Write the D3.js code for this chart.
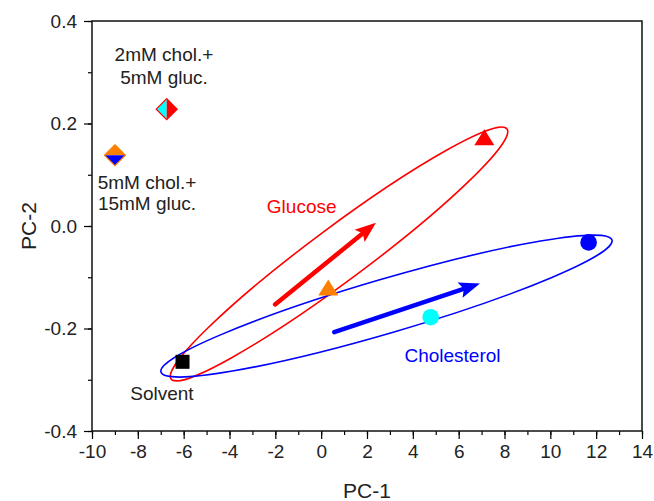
<!DOCTYPE html>
<html>
<head>
<meta charset="utf-8">
<script src="https://cdn.jsdelivr.net/npm/d3@7"></script>
<style>
body{margin:0;background:#fff;}
svg text{font-family:"Liberation Sans",Arial,Helvetica,sans-serif;fill:#222;}
</style>
</head>
<body>
<div id="chart"></div>
<script>
// ticks
var xTicks = [-10,-8,-6,-4,-2,0,2,4,6,8,10,12,14];
var yTicks = [-0.4,-0.2,0,0.2,0.4];
var yTickLabels = ["-0.4","-0.2","0.0","0.2","0.4"];

// score plot samples (PC-1, PC-2)
var sampleNames = ["Solvent","Glucose 1","Glucose 2","Cholesterol 1","Cholesterol 2","2mM chol.+5mM gluc.","5mM chol.+15mM gluc."];
var samplePC1 = [-6.05, 0.31, 7.12, 4.78, 11.67, -6.74, -9.0];
var samplePC2 = [-0.265, -0.122, 0.171, -0.178, -0.032, 0.228, 0.138];

// confidence ellipses, given by the two ends of the long axis
var groupNames = ["Glucose","Cholesterol"];
var ellipseStart = [[-6.55,-0.2985],[-6.99,-0.285]];
var ellipseEnd = [[8.11,0.1893],[12.69,-0.0273]];

// trend arrows
var arrowFrom = [[-2.01,-0.153],[0.57,-0.207]];
var arrowTo = [[2.39,0.0065],[6.93,-0.112]];

// text notes
var noteText = ["2mM chol.+","5mM gluc.","5mM chol.+","15mM gluc.","Solvent","Glucose","Cholesterol"];
var notePC1 = [-6.86,-6.86,-7.6,-7.6,-6.95,-0.85,5.73];
var notePC2 = [0.3356,0.2913,0.0864,0.0455,-0.326,0.039,-0.2517];

(function(){
	var width = 654, height = 501;
	var margin = {top:21, right:12, bottom:70, left:92};

	var shapes = ["square","triangle","triangle","circle","circle","diamondV","diamondH"];
	var fills = ["#000","#ff8000","#ff0000","#00ffff","#0000ff",["#00ffff","#ff0000"],["#ff8000","#0000ff"]];
	var groupColors = ["#ff0000","#0000ff"];
	var noteColors = ["#222","#222","#222","#222","#222","#ff0000","#0000ff"];
	var ellipseRatio = [0.129,0.115];

	var svg = d3.select("#chart").append("svg")
		.attr("width",width)
		.attr("height",height);

	var x = d3.scaleLinear().domain([-10,14]).range([margin.left,width-margin.right]);
	var y = d3.scaleLinear().domain([-0.4,0.4]).range([height-margin.bottom,margin.top]);

	// minor ticks
	svg.append("g")
		.attr("transform","translate(0,"+y(-0.4)+")")
		.call(d3.axisBottom(x).tickValues(d3.range(-10,14.5,1)).tickSize(4).tickFormat(""))
		.call(function(g){g.select(".domain").remove();});
	svg.append("g")
		.attr("transform","translate("+x(-10)+",0)")
		.call(d3.axisLeft(y).tickValues(d3.range(-4,4.5,1).map(function(d){return d/10;})).tickSize(4).tickFormat(""))
		.call(function(g){g.select(".domain").remove();});

	// major ticks
	var xAxis = svg.append("g")
		.attr("transform","translate(0,"+y(-0.4)+")")
		.call(d3.axisBottom(x).tickValues(xTicks).tickSize(8).tickPadding(6).tickFormat(function(d){return String(d);}));
	var yAxis = svg.append("g")
		.attr("transform","translate("+x(-10)+",0)")
		.call(d3.axisLeft(y).tickValues(yTicks).tickSize(8).tickPadding(7)
			.tickFormat(function(d,i){return yTickLabels[i];}));
	[xAxis,yAxis].forEach(function(g){
		g.select(".domain").remove();
		g.selectAll("text").style("font-size","19px").attr("fill","#222");
	});
	svg.selectAll(".tick line").attr("stroke","#000").attr("stroke-width",1.2);

	// frame
	svg.append("rect")
		.attr("x",x(-10)).attr("y",y(0.4))
		.attr("width",x(14)-x(-10)).attr("height",y(-0.4)-y(0.4))
		.attr("fill","none").attr("stroke","#111").attr("stroke-width",1.5);

	// axis titles
	svg.append("text")
		.attr("x",(x(-10)+x(14))/2).attr("y",498)
		.attr("text-anchor","middle").style("font-size","21px")
		.text("PC-1");
	svg.append("text")
		.attr("transform","translate(36,"+y(0)+") rotate(-90)")
		.attr("text-anchor","middle").style("font-size","21px")
		.text("PC-2");

	// ellipses
	groupNames.forEach(function(name,i){
		var x1 = x(ellipseStart[i][0]), y1 = y(ellipseStart[i][1]);
		var x2 = x(ellipseEnd[i][0]), y2 = y(ellipseEnd[i][1]);
		var a = Math.sqrt((x2-x1)*(x2-x1)+(y2-y1)*(y2-y1))/2;
		var ang = Math.atan2(y2-y1,x2-x1)*180/Math.PI;
		svg.append("ellipse")
			.attr("cx",(x1+x2)/2).attr("cy",(y1+y2)/2)
			.attr("rx",a).attr("ry",a*ellipseRatio[i])
			.attr("transform","rotate("+ang+","+(x1+x2)/2+","+(y1+y2)/2+")")
			.attr("fill","none")
			.attr("stroke",groupColors[i])
			.attr("stroke-width",1.6);
	});

	// arrows
	arrowFrom.forEach(function(p,i){
		var x1 = x(p[0]), y1 = y(p[1]);
		var x2 = x(arrowTo[i][0]), y2 = y(arrowTo[i][1]);
		var ang = Math.atan2(y2-y1,x2-x1);
		var len = 21, half = 8;
		var bx = x2-len*Math.cos(ang), by = y2-len*Math.sin(ang);
		svg.append("line")
			.attr("x1",x1).attr("y1",y1)
			.attr("x2",bx+3*Math.cos(ang)).attr("y2",by+3*Math.sin(ang))
			.attr("stroke",groupColors[i])
			.attr("stroke-width",4.5)
			.attr("stroke-linecap","round");
		svg.append("polygon")
			.attr("points",[
				[x2,y2],
				[bx-half*Math.sin(ang),by+half*Math.cos(ang)],
				[bx+4*Math.cos(ang),by+4*Math.sin(ang)],
				[bx+half*Math.sin(ang),by-half*Math.cos(ang)]
			].map(function(q){return q.join(",");}).join(" "))
			.attr("fill",groupColors[i]);
	});

	// samples
	sampleNames.forEach(function(name,i){
		var cx = x(samplePC1[i]), cy = y(samplePC2[i]);
		var shape = shapes[i];
		var g = svg.append("g").attr("class","sample");
		if(shape=="square"){
			g.append("rect").attr("x",cx-7).attr("y",cy-7)
				.attr("width",14).attr("height",14).attr("fill",fills[i]);
		} else if(shape=="circle"){
			g.append("circle").attr("cx",cx).attr("cy",cy).attr("r",8.3).attr("fill",fills[i]);
		} else if(shape=="triangle"){
			g.append("polygon")
				.attr("points",[[cx,cy-9],[cx-10,cy+7],[cx+10,cy+7]].map(function(q){return q.join(",");}).join(" "))
				.attr("fill",fills[i]);
		} else {
			var r = 10.5;
			var top = [cx,cy-r], bot = [cx,cy+r], lft = [cx-r,cy], rgt = [cx+r,cy];
			var halves = shape=="diamondV" ? [[top,lft,bot],[top,rgt,bot]] : [[lft,top,rgt],[lft,bot,rgt]];
			halves.forEach(function(h,j){
				g.append("polygon")
					.attr("points",h.map(function(q){return q.join(",");}).join(" "))
					.attr("fill",fills[i][j]);
			});
			g.append("polygon")
				.attr("points",[top,rgt,bot,lft].map(function(q){return q.join(",");}).join(" "))
				.attr("fill","none")
				.attr("stroke",shape=="diamondV" ? fills[i][1] : fills[i][0])
				.attr("stroke-width",1.2);
		}
	});

	// notes
	svg.selectAll("text.note")
		.data(noteText)
		.enter()
		.append("text")
		.attr("class","note")
		.attr("x",function(d,i){return x(notePC1[i]);})
		.attr("y",function(d,i){return y(notePC2[i]);})
		.attr("dy","0.36em")
		.attr("text-anchor","middle")
		.style("font-size","19px")
		.style("fill",function(d,i){return noteColors[i];})
		.text(function(d){return d;});
})();
</script>
</body>
</html>
